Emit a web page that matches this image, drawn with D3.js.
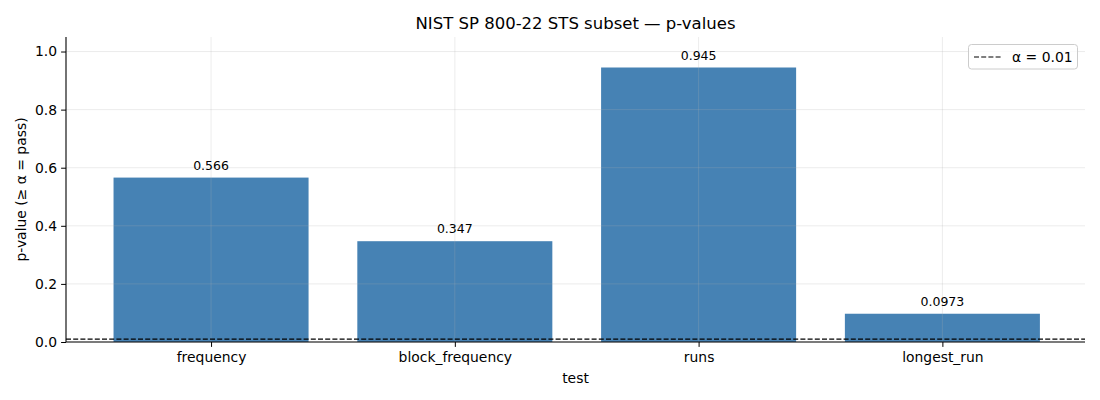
<!DOCTYPE html>
<html><head><meta charset="utf-8">
<script src="https://cdn.jsdelivr.net/npm/d3@7"></script>
<style>body{margin:0;background:#fff;} svg{font-family:"DejaVu Sans",sans-serif;}</style>
</head><body>
<svg id="c" width="1100" height="400"></svg>
<script>
const categories = ["frequency","block_frequency","runs","longest_run"];
const pvalues = [0.566, 0.347, 0.945, 0.0973];
const valueLabels = ["0.566","0.347","0.945","0.0973"];
const yTicks = [0.0,0.2,0.4,0.6,0.8,1.0];
const alpha = 0.01;

const svg = d3.select("#c");
const L=66, R=1085, T=37, B=342;
const x = d3.scaleLinear().domain([-0.595, 3.585]).range([L, R]);
const y = d3.scaleLinear().domain([0, 1.05]).range([B, T]);
const bw = x(0.4) - x(-0.4);

// bars
svg.append("g").selectAll("rect").data(pvalues).join("rect")
  .attr("x",(d,i)=>x(i)-bw/2).attr("width",bw)
  .attr("y",d=>y(d)).attr("height",d=>B-y(d))
  .attr("fill","#4682b4");

// grid on top
const grid = svg.append("g").attr("stroke","#b0b0b0").attr("stroke-opacity",0.3).attr("stroke-width",0.8);
yTicks.forEach(t=>grid.append("line").attr("x1",L).attr("x2",R).attr("y1",y(t)).attr("y2",y(t)));
categories.forEach((c,i)=>grid.append("line").attr("x1",x(i)).attr("x2",x(i)).attr("y1",T).attr("y2",B));

// alpha line
svg.append("line").attr("x1",L).attr("x2",R).attr("y1",y(alpha)).attr("y2",y(alpha))
  .attr("stroke","#000").attr("stroke-width",1.2).attr("stroke-dasharray","5,2.2");

// value labels
svg.append("g").selectAll("text").data(pvalues).join("text")
  .attr("x",(d,i)=>x(i)).attr("y",d=>y(d)-8)
  .attr("text-anchor","middle").attr("font-size",12.5).attr("fill","#000")
  .text((d,i)=>valueLabels[i]);

// axes
const yAxis = d3.axisLeft(y).tickValues(yTicks).tickFormat(d3.format(".1f")).tickSize(4.9).tickPadding(4);
const gy = svg.append("g").attr("transform",`translate(${L},0)`).call(yAxis);
const xAxis = d3.axisBottom(x).tickValues(d3.range(categories.length)).tickFormat(i=>categories[i]).tickSize(4.9).tickPadding(5.5);
const gx = svg.append("g").attr("transform",`translate(0,${B})`).call(xAxis);
[gx,gy].forEach(g=>{
  g.selectAll("text").attr("font-size",13.9).attr("fill","#000").attr("font-family","DejaVu Sans");
  g.selectAll("line").attr("stroke","#000").attr("stroke-width",1);
  g.select(".domain").remove();
});
svg.append("line").attr("x1",L).attr("x2",L).attr("y1",T).attr("y2",B).attr("stroke","#000").attr("stroke-width",1.1);
svg.append("line").attr("x1",L).attr("x2",R).attr("y1",B).attr("y2",B).attr("stroke","#000").attr("stroke-width",1.1);

// titles
svg.append("text").attr("x",(L+R)/2).attr("y",29).attr("text-anchor","middle").attr("font-size",16.5)
  .text("NIST SP 800-22 STS subset — p-values");
svg.append("text").attr("x",(L+R)/2).attr("y",382.5).attr("text-anchor","middle").attr("font-size",13.9).text("test");
svg.append("text").attr("transform",`translate(26,${(T+B)/2}) rotate(-90)`).attr("text-anchor","middle")
  .attr("font-size",13.9).text("p-value (≥ α = pass)");

// legend
const lg = svg.append("g");
lg.append("rect").attr("x",968.5).attr("y",44.5).attr("width",109).attr("height",24.5).attr("rx",3)
  .attr("fill","#fff").attr("fill-opacity",0.8).attr("stroke","#ccc").attr("stroke-width",1);
lg.append("line").attr("x1",974).attr("x2",1002).attr("y1",57).attr("y2",57)
  .attr("stroke","#000").attr("stroke-width",1.2).attr("stroke-dasharray","5,2.2");
lg.append("text").attr("x",1012).attr("y",62).attr("font-size",13.9).text("α = 0.01");
</script>
</body></html>
